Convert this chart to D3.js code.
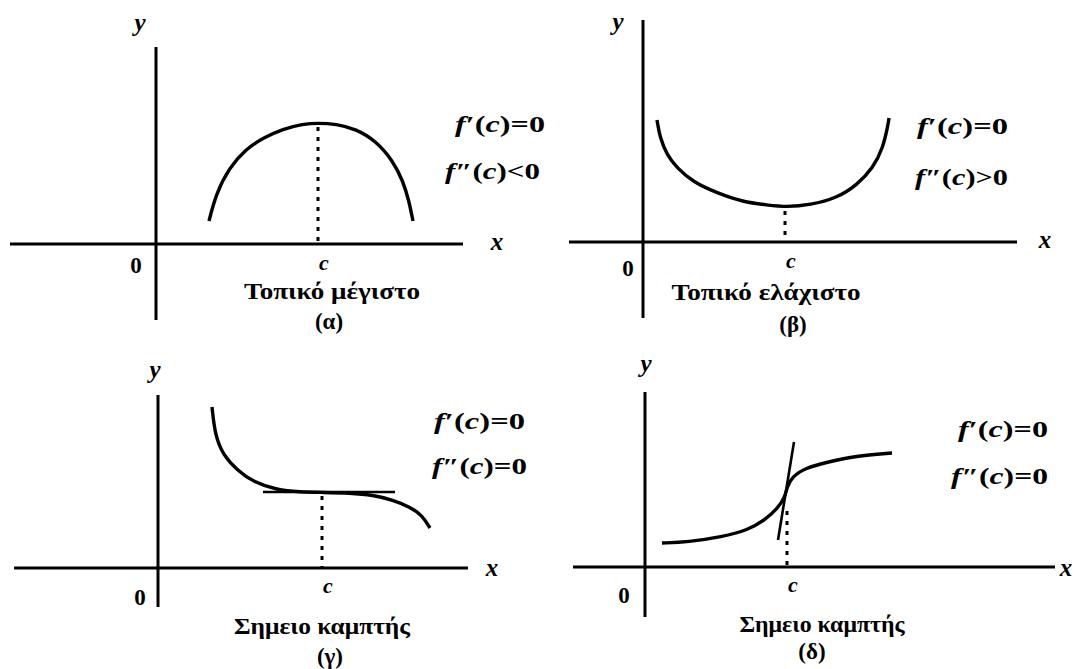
<!DOCTYPE html>
<html>
<head>
<meta charset="utf-8">
<script src="https://cdn.jsdelivr.net/npm/d3@7"></script>
<style>
  body { margin: 0; background: #fff; }
  text { font-family: "Liberation Serif", "DejaVu Serif", serif; fill: #000; }
</style>
</head>
<body>
<div id="chart"></div>
<script>
    // Values (1 unit ~ 20 px, origin where the axes cross)
    const panelIds = ["α", "β", "γ", "δ"];
    const captions = ["Τοπικό μέγιστο", "Τοπικό ελάχιστο", "Σημειο καμπτής", "Σημειο καμπτής"];
    const secondSign = ["<", ">", "=", "="];
    const cValues = [8.1, 7.1, 8.2, 7.1];
    const cHeights = [6.05, 1.75, 3.8, 3.0];

    const curveA = [[2.65, 1.15], [3.0, 2.5], [3.65, 3.8], [4.5, 4.75], [5.35, 5.3], [6.35, 5.75],
                    [7.35, 6.0], [8.1, 6.05], [9.0, 6.0], [10.0, 5.75], [11.0, 5.15], [11.85, 4.15],
                    [12.35, 3.15], [12.65, 2.15], [12.85, 1.15]];
    const curveB = [[0.7, 6.1], [0.85, 5.2], [1.2, 4.35], [1.7, 3.7], [2.5, 3.0], [3.7, 2.45],
                    [5.0, 2.0], [6.2, 1.85], [7.2, 1.75], [8.35, 1.85], [9.7, 2.2], [10.7, 2.85],
                    [11.5, 3.7], [12.0, 4.7], [12.25, 5.85], [12.3, 6.2]];
    const curveC = [[2.7, 8.05], [2.85, 6.65], [3.25, 5.65], [3.95, 4.9], [4.75, 4.3], [5.95, 3.9],
                    [7.1, 3.8], [8.2, 3.78], [9.6, 3.75], [10.75, 3.65], [11.75, 3.4], [12.6, 3.05],
                    [13.2, 2.65], [13.6, 2.0]];
    const curveD = [[0.85, 1.2], [2.15, 1.25], [3.85, 1.5], [5.15, 1.85], [6.0, 2.35], [6.65, 2.95],
                    [7.0, 3.5], [7.1, 4.0], [7.35, 4.5], [8.0, 4.95], [9.15, 5.25], [10.5, 5.55],
                    [12.35, 5.7]];
    const curves = [curveA, curveB, curveC, curveD];

    // tangent segments (inflection panels only)
    const tangents = [null, null, [[5.25, 3.8], [11.85, 3.8]], [[6.65, 1.35], [7.45, 6.25]]];

    // axis extents [xmin, xmax, ymin, ymax]
    const axisExtents = [[-7.3, 15.35, -3.8, 9.85], [-3.7, 18.7, -3.8, 11.1],
                         [-7.2, 15.5, -1.95, 8.65], [-3.6, 20.5, -2.5, 8.75]];

    // layout (pixels)
    const origins = [[156, 244], [643, 242], [158, 568], [645, 567]];
    const unit = 20;
    const yLabelPos = [[140, 31], [618, 30], [155, 378], [646, 372]];
    const xLabelPos = [[497, 250], [1045, 248], [492, 576], [1066, 576]];
    const zeroPos = [[136, 273], [628, 276], [140, 605], [624, 603]];
    const cLabelY = [270, 268, 593, 592];
    const captionPos = [[332, 299], [766, 300], [322, 634], [822, 632]];
    const captionW = [176, 189, 176, 165];
    const idPos = [[329, 329], [793, 332], [330, 664], [812, 659]];
    const condPos = [[[455, 132], [445, 179]], [[917, 134], [915, 185]],
                     [[434, 429], [432, 474]], [[958, 437], [951, 484]]];
    const condW = [[90, 95], [91, 93], [91, 95], [90, 97]];

    const svg = d3.select("#chart").append("svg")
      .attr("width", 1077)
      .attr("height", 669);

    panelIds.forEach((id, i) => {
      const [ox, oy] = origins[i];
      const x = d3.scaleLinear().domain([0, 10]).range([ox, ox + 10 * unit]);
      const y = d3.scaleLinear().domain([0, 10]).range([oy, oy - 10 * unit]);
      const ext = axisExtents[i];
      const g = svg.append("g");

      // axes
      g.append("line")
        .attr("x1", x(ext[0])).attr("x2", x(ext[1]))
        .attr("y1", y(0)).attr("y2", y(0))
        .attr("stroke", "#000").attr("stroke-width", 3);
      g.append("line")
        .attr("x1", x(0)).attr("x2", x(0))
        .attr("y1", y(ext[2])).attr("y2", y(ext[3]))
        .attr("stroke", "#000").attr("stroke-width", 3);

      // curve
      const line = d3.line()
        .x(d => x(d[0]))
        .y(d => y(d[1]))
        .curve(d3.curveBasis);
      g.append("path")
        .datum(curves[i])
        .attr("d", line)
        .attr("fill", "none")
        .attr("stroke", "#000")
        .attr("stroke-width", 3.4);

      // tangent
      if (tangents[i]) {
        g.append("line")
          .attr("x1", x(tangents[i][0][0])).attr("y1", y(tangents[i][0][1]))
          .attr("x2", x(tangents[i][1][0])).attr("y2", y(tangents[i][1][1]))
          .attr("stroke", "#000").attr("stroke-width", 2.6);
      }

      // dotted line down to c
      g.append("line")
        .attr("x1", x(cValues[i])).attr("x2", x(cValues[i]))
        .attr("y1", y(cHeights[i]) + 4).attr("y2", y(0))
        .attr("stroke", "#000").attr("stroke-width", 3)
        .attr("stroke-dasharray", "4,6");

      // axis labels
      g.append("text")
        .attr("x", yLabelPos[i][0]).attr("y", yLabelPos[i][1])
        .attr("text-anchor", "middle")
        .attr("font-size", 25).attr("font-weight", "bold").attr("font-style", "italic")
        .text("y");
      g.append("text")
        .attr("x", xLabelPos[i][0]).attr("y", xLabelPos[i][1])
        .attr("text-anchor", "middle")
        .attr("font-size", 25).attr("font-weight", "bold").attr("font-style", "italic")
        .text("x");
      g.append("text")
        .attr("x", zeroPos[i][0]).attr("y", zeroPos[i][1])
        .attr("text-anchor", "middle")
        .attr("font-family", "Liberation Sans, Arial, sans-serif")
        .attr("font-size", 23).attr("font-weight", "bold")
        .text("0");
      g.append("text")
        .attr("x", x(cValues[i]) + 6).attr("y", cLabelY[i])
        .attr("text-anchor", "middle")
        .attr("font-size", 22).attr("font-weight", "bold").attr("font-style", "italic")
        .text("c");

      // caption
      g.append("text")
        .attr("x", captionPos[i][0]).attr("y", captionPos[i][1])
        .attr("text-anchor", "middle")
        .attr("font-size", 23).attr("font-weight", "bold")
        .attr("textLength", captionW[i])
        .attr("lengthAdjust", "spacingAndGlyphs")
        .text(captions[i]);
      g.append("text")
        .attr("x", idPos[i][0]).attr("y", idPos[i][1])
        .attr("text-anchor", "middle")
        .attr("font-size", 23).attr("font-weight", "bold")
        .text("(" + id + ")");

      // conditions
      const conds = [["′", "="], ["″", secondSign[i]]];
      conds.forEach((c, k) => {
        const t = g.append("text")
          .attr("x", condPos[i][k][0]).attr("y", condPos[i][k][1])
          .attr("font-size", 23).attr("font-weight", "bold")
          .attr("textLength", condW[i][k])
          .attr("lengthAdjust", "spacingAndGlyphs");
        t.append("tspan").attr("font-style", "italic").text("f");
        t.append("tspan").text(c[0] + "(");
        t.append("tspan").attr("font-style", "italic").text("c");
        t.append("tspan").text(")" + c[1] + "0");
      });
    });
</script>
</body>
</html>
